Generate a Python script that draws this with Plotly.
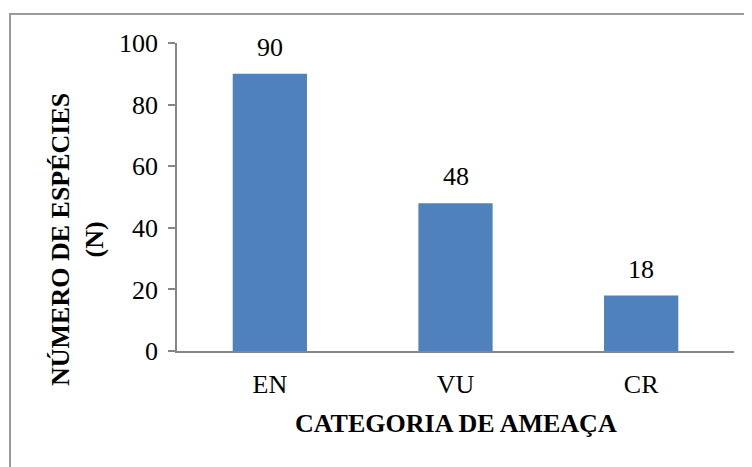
import plotly.graph_objects as go

categories = ["EN", "VU", "CR"]
values = [90, 48, 18]
y_ticks = [0, 20, 40, 60, 80, 100]

FONT = "Liberation Serif, Times New Roman, serif"
OFF = 8  # page body offset
# plot area in page pixel coordinates
PX0, PX1, PY0, PY1 = 177, 734, 43, 351
W, H = 752 - OFF, 467 - OFF
L, R, T, B = PX0 - OFF, 752 - PX1, PY0 - OFF, 467 - PY1
PW, PH = PX1 - PX0, PY1 - PY0

fig = go.Figure()
fig.add_trace(go.Bar(
    x=categories, y=values,
    marker=dict(color="#4F81BD", line=dict(width=0)),
    hoverinfo="skip",
))

for c, v in zip(categories, values):
    fig.add_annotation(x=c, y=v, text=str(v), showarrow=False,
                       yanchor="bottom", yshift=10,
                       font=dict(family=FONT, size=26, color="black"))

fig.add_annotation(xref="paper", yref="paper", x=(77 - PX0) / PW, y=(PY1 - 240) / PH,
                   text="<b>NÚMERO DE ESPÉCIES<br>(N)</b>", textangle=-90,
                   showarrow=False, xanchor="center", yanchor="middle",
                   font=dict(family=FONT, size=26, color="black"))
fig.add_annotation(xref="paper", yref="paper", x=0.5, y=(PY1 - 424) / PH,
                   text="<b>CATEGORIA DE AMEAÇA</b>",
                   showarrow=False, xanchor="center", yanchor="middle",
                   font=dict(family=FONT, size=26, color="black"))

fig.add_shape(type="rect", xref="paper", yref="paper",
              x0=(10 - PX0) / PW, x1=(750 - PX0) / PW,
              y0=(PY1 - 480) / PH, y1=(PY1 - 14) / PH,
              line=dict(color="#9A9A9A", width=2), fillcolor="rgba(0,0,0,0)", layer="below")

fig.update_layout(
    width=W, height=H,
    margin=dict(l=L, r=R, t=T, b=B),
    paper_bgcolor="white", plot_bgcolor="white",
    bargap=0.6, showlegend=False,
    font=dict(family=FONT, size=26, color="black"),
    xaxis=dict(showline=True, linecolor="#868686", linewidth=1.5,
               ticks="", showgrid=False, zeroline=False,
               ticklabelstandoff=9,
               tickfont=dict(family=FONT, size=26, color="black")),
    yaxis=dict(range=[0, 100], tickvals=y_ticks, showline=True,
               linecolor="#868686", linewidth=1.5, ticks="outside",
               ticklen=7, tickcolor="#868686", tickwidth=1.5,
               showgrid=False, zeroline=False, ticklabelstandoff=5,
               tickfont=dict(family=FONT, size=26, color="black")),
)

fig.write_html("out.html")
